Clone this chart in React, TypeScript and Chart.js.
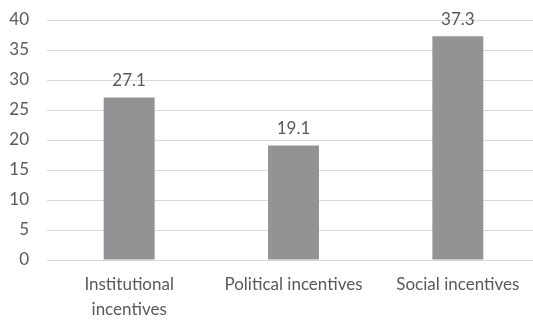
import React, { useEffect, useRef } from "react";
import { Chart, registerables } from "chart.js";

Chart.register(...registerables);

const categories: (string | string[])[] = [["Institutional", "incentives"], "Political incentives", "Social incentives"];
const values = [27.1, 19.1, 37.3];
const valueLabels = ["27.1", "19.1", "37.3"];

const FONT = "Lato, 'Open Sans', sans-serif";
const TEXT = "#595959";

const labelPlugin = {
  id: "valueLabels",
  afterDatasetsDraw(chart: any) {
    const ctx = chart.ctx;
    const meta = chart.getDatasetMeta(0);
    ctx.save();
    ctx.font = `17px ${FONT}`;
    ctx.fillStyle = TEXT;
    ctx.textAlign = "center";
    ctx.textBaseline = "middle";
    meta.data.forEach((bar: any, i: number) => {
      ctx.fillText(valueLabels[i], bar.x, bar.y - 17);
    });
    ctx.restore();
  },
};

export default function App() {
  const ref = useRef<HTMLCanvasElement>(null);
  useEffect(() => {
    document.body.style.margin = "0";
    const chart = new Chart(ref.current!, {
      type: "bar",
      data: {
        labels: categories,
        datasets: [
          {
            data: values,
            backgroundColor: "#939395",
            categoryPercentage: 1,
            barPercentage: 0.31,
          },
        ],
      },
      options: {
        animation: false,
        responsive: false,
        maintainAspectRatio: false,
        layout: { padding: { top: 20, right: 0, left: 0, bottom: 0 } },
        plugins: { legend: { display: false }, tooltip: { enabled: false } },
        scales: {
          y: {
            min: 0,
            max: 40,
            ticks: { stepSize: 5, color: TEXT, font: { family: FONT, size: 17 }, padding: 18 },
            grid: { color: "#d9d9d9", drawTicks: false, lineWidth: 1 },
            border: { display: false },
            afterFit(scale: any) {
              scale.width = 47;
              scale.paddingTop = 0;
              scale.paddingBottom = 0;
            },
          },
          x: {
            ticks: { color: TEXT, font: { family: FONT, size: 17, lineHeight: "25px" as any }, padding: 12, maxRotation: 0, autoSkip: false },
            grid: { display: false, drawTicks: false },
            border: { display: false },
            afterFit(scale: any) {
              scale.height = 62;
              scale.paddingLeft = 0;
              scale.paddingRight = 0;
            },
          },
        },
      },
      plugins: [labelPlugin],
    });
    return () => chart.destroy();
  }, []);
  return (
    <div style={{ position: "absolute", left: 0, top: 0, width: 533, height: 322, overflow: "hidden" }}>
      <canvas ref={ref} width={540} height={322} style={{ width: 540, height: 322 }} />
    </div>
  );
}
